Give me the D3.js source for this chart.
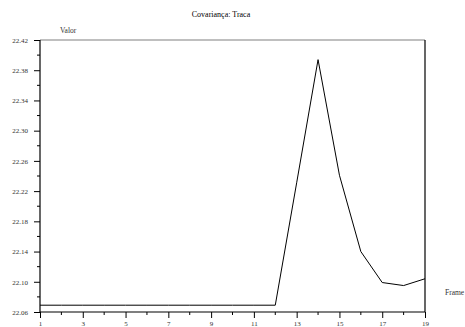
<!DOCTYPE html>
<html>
<head>
<script src="https://d3js.org/d3.v7.min.js"></script>
<style>
body { margin: 0; background: #fff; }
svg text { font-family: "Liberation Serif", serif; }
</style>
</head>
<body>
<script>
// frames and covariance trace values
var frames = [1,2,3,4,5,6,7,8,9,10,11,12,13,14,15,16,17,18,19];
var valores = [22.069,22.069,22.069,22.069,22.069,22.069,22.069,22.069,22.069,22.069,22.069,22.069,
               22.231,22.394,22.241,22.140,22.099,22.095,22.104];
var yTicks = [22.06,22.10,22.14,22.18,22.22,22.26,22.30,22.34,22.38,22.42];
var xTicks = [1,3,5,7,9,11,13,15,17,19];

var width = 465, height = 327;
var plotLeft = 40, plotRight = 425, plotTop = 40, plotBottom = 312;

var svg = d3.select("body").append("svg")
    .attr("width", width)
    .attr("height", height);

var x = d3.scaleLinear().domain([1, 19]).range([plotLeft, plotRight]);
var y = d3.scaleLinear().domain([22.06, 22.42]).range([plotBottom, plotTop]);

// frame: gray top, black right
svg.append("line")
    .attr("x1", plotLeft).attr("x2", plotRight).attr("y1", plotTop).attr("y2", plotTop)
    .attr("stroke", "#808080").attr("stroke-width", 1.2);
svg.append("line")
    .attr("x1", plotRight).attr("x2", plotRight).attr("y1", plotTop).attr("y2", plotBottom)
    .attr("stroke", "#000").attr("stroke-width", 1.2);

// minor ticks
var yMinor = d3.range(22.08, 22.42, 0.04);
svg.selectAll(".ym").data(yMinor).enter().append("line")
    .attr("x1", plotLeft - 3).attr("x2", plotLeft)
    .attr("y1", function(d){ return y(d); }).attr("y2", function(d){ return y(d); })
    .attr("stroke", "#000");
var xMinor = d3.range(2, 19, 2);
svg.selectAll(".xm").data(xMinor).enter().append("line")
    .attr("x1", function(d){ return x(d); }).attr("x2", function(d){ return x(d); })
    .attr("y1", plotBottom).attr("y2", plotBottom + 3)
    .attr("stroke", "#000");

// axes
var yAxis = svg.append("g")
    .attr("transform", "translate(" + plotLeft + ",0)")
    .call(d3.axisLeft(y).tickValues(yTicks).tickFormat(d3.format(".2f")).tickSize(6).tickPadding(6));
var xAxis = svg.append("g")
    .attr("transform", "translate(0," + plotBottom + ")")
    .call(d3.axisBottom(x).tickValues(xTicks).tickFormat(d3.format("d")).tickSize(6).tickPadding(3));

[yAxis, xAxis].forEach(function(a){
    a.select(".domain").attr("stroke", "#000").attr("stroke-width", 1.2);
    a.selectAll(".tick line").attr("stroke", "#000");
    a.selectAll("text").attr("font-family", "Liberation Serif").attr("font-size", 7).attr("fill", "#333");
});
yAxis.select(".domain").attr("d", "M0," + plotBottom + "V" + plotTop);
xAxis.select(".domain").attr("d", "M" + plotLeft + ",0H" + plotRight);

// data line
svg.append("path")
    .datum(frames)
    .attr("fill", "none")
    .attr("stroke", "#000")
    .attr("stroke-width", 1)
    .attr("d", d3.line()
        .x(function(d){ return x(d); })
        .y(function(d, i){ return y(valores[i]); }));

// labels
svg.append("text")
    .attr("x", 221).attr("y", 17)
    .attr("text-anchor", "middle")
    .attr("font-size", 8)
    .text("Covariança: Traca");
svg.append("text")
    .attr("x", 60).attr("y", 33)
    .attr("font-size", 7.5)
    .attr("fill", "#333")
    .text("Valor");
svg.append("text")
    .attr("x", 445).attr("y", 295)
    .attr("font-size", 7.5)
    .attr("fill", "#333")
    .text("Frame");
</script>
</body>
</html>
